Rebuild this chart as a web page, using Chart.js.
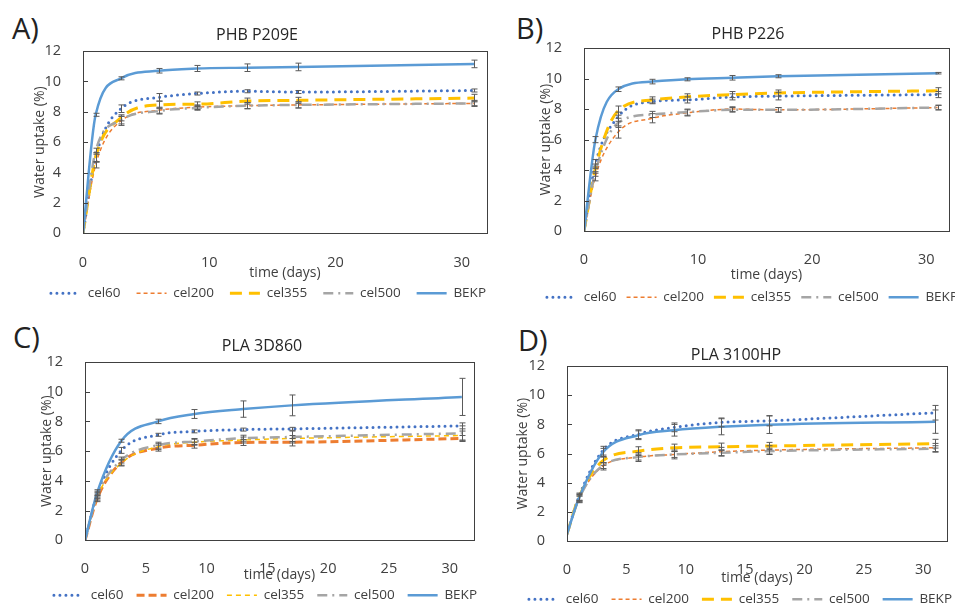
<!DOCTYPE html>
<html><head><meta charset="utf-8">
<script src="https://cdn.jsdelivr.net/npm/chart.js@4.4.1/dist/chart.umd.min.js"></script>
<style>
html,body{margin:0;padding:0;background:#fff;}
body{width:955px;height:605px;overflow:hidden;position:relative;font-family:"Open Sans",sans-serif;}
canvas{position:absolute;}
.lbl{position:absolute;font-size:29px;line-height:1;color:#222;font-family:"Open Sans",sans-serif;}
</style></head>
<body>
<div class="lbl" style="left:12px;top:13px">A)</div>
<div class="lbl" style="left:516px;top:13px">B)</div>
<div class="lbl" style="left:13px;top:322px">C)</div>
<div class="lbl" style="left:518px;top:325px">D)</div>
<canvas id="cA" width="492" height="285" style="left:0px;top:20px"></canvas>
<canvas id="cB" width="465" height="285" style="left:490px;top:20px"></canvas>
<canvas id="cC" width="480" height="285" style="left:0px;top:320px"></canvas>
<canvas id="cD" width="465" height="285" style="left:490px;top:320px"></canvas>
<script>
// ---------- DATA ----------
const days = [0, 1, 3, 6, 9, 13, 17, 31];
const seriesNames = ['cel60', 'cel200', 'cel355', 'cel500', 'BEKP'];
const panelTitles = ['PHB P209E', 'PHB P226', 'PLA 3D860', 'PLA 3100HP'];
const xTickSteps = [10, 10, 5, 5];
const yAxisTitle = 'Water uptake (%)';
const xAxisTitle = 'time (days)';

// Panel A - PHB P209E
const A_cel60  = [0, 5.0, 8.2, 8.95, 9.2, 9.35, 9.3, 9.4];
const A_cel200 = [0, 4.5, 7.4, 8.1, 8.3, 8.4, 8.45, 8.55];
const A_cel355 = [0, 5.0, 7.6, 8.45, 8.5, 8.7, 8.75, 8.9];
const A_cel500 = [0, 5.4, 7.45, 8.05, 8.25, 8.4, 8.45, 8.55];
const A_BEKP   = [0, 7.8, 10.2, 10.7, 10.85, 10.9, 10.95, 11.15];
const A_cel60_err  = [0, 0.3, 0.25, 0.25, 0.1, 0.1, 0.1, 0.1];
const A_cel200_err = [0, 0.2, 0.3, 0.2, 0.15, 0.2, 0.2, 0.15];
const A_cel355_err = [0, 0.3, 0.2, 0.25, 0.15, 0.2, 0.2, 0.25];
const A_cel500_err = [0, 0.2, 0.25, 0.2, 0.15, 0.2, 0.2, 0.2];
const A_BEKP_err   = [0, 0.1, 0.1, 0.15, 0.2, 0.25, 0.25, 0.25];

// Panel B - PHB P226
const B_cel60  = [0, 4.4, 7.5, 8.5, 8.6, 8.8, 8.85, 8.95];
const B_cel200 = [0, 3.6, 6.5, 7.4, 7.75, 8.0, 7.95, 8.1];
const B_cel355 = [0, 4.1, 7.9, 8.6, 8.8, 8.95, 9.05, 9.2];
const B_cel500 = [0, 3.9, 7.1, 7.65, 7.8, 7.95, 7.95, 8.1];
const B_BEKP   = [0, 6.0, 9.3, 9.8, 9.95, 10.05, 10.15, 10.35];
const B_cel60_err  = [0, 0.3, 0.3, 0.15, 0.2, 0.2, 0.25, 0.2];
const B_cel200_err = [0, 0.3, 0.4, 0.3, 0.2, 0.15, 0.15, 0.15];
const B_cel355_err = [0, 0.3, 0.3, 0.2, 0.2, 0.2, 0.2, 0.2];
const B_cel500_err = [0, 0.3, 0.3, 0.2, 0.2, 0.15, 0.15, 0.15];
const B_BEKP_err   = [0, 0.2, 0.15, 0.15, 0.1, 0.15, 0.1, 0.05];

// Panel C - PLA 3D860
const C_cel60  = [0, 3.1, 6.05, 7.1, 7.33, 7.45, 7.5, 7.7];
const C_cel200 = [0, 2.8, 5.25, 6.2, 6.4, 6.58, 6.6, 6.85];
const C_cel355 = [0, 2.9, 5.2, 6.3, 6.6, 6.75, 6.85, 7.05];
const C_cel500 = [0, 3.0, 5.4, 6.4, 6.65, 6.87, 6.95, 7.2];
const C_BEKP   = [0, 3.2, 6.7, 8.0, 8.5, 8.83, 9.08, 9.65];
const C_cel60_err  = [0, 0.2, 0.2, 0.1, 0.1, 0.1, 0.1, 0.2];
const C_cel200_err = [0, 0.2, 0.2, 0.2, 0.2, 0.2, 0.25, 0.2];
const C_cel355_err = [0, 0.2, 0.2, 0.2, 0.2, 0.2, 0.2, 0.3];
const C_cel500_err = [0, 0.2, 0.2, 0.2, 0.2, 0.2, 0.4, 0.5];
const C_BEKP_err   = [0, 0.2, 0.1, 0.15, 0.3, 0.55, 0.7, 1.25];

// Panel D - PLA 3100HP
const D_cel60  = [0.5, 3.05, 6.2, 7.33, 7.8, 8.14, 8.25, 8.8];
const D_cel200 = [0.5, 2.9, 5.13, 5.76, 5.94, 6.13, 6.24, 6.4];
const D_cel355 = [0.5, 3.0, 5.5, 6.17, 6.4, 6.47, 6.52, 6.68];
const D_cel500 = [0.5, 2.9, 5.18, 5.76, 5.94, 6.06, 6.17, 6.34];
const D_BEKP   = [0.5, 2.94, 6.06, 7.26, 7.6, 7.84, 7.98, 8.19];
const D_cel60_err  = [0, 0.25, 0.3, 0.3, 0.3, 0.3, 0.35, 0.5];
const D_cel200_err = [0, 0.2, 0.25, 0.3, 0.3, 0.3, 0.3, 0.3];
const D_cel355_err = [0, 0.2, 0.3, 0.3, 0.25, 0.25, 0.25, 0.3];
const D_cel500_err = [0, 0.2, 0.2, 0.2, 0.2, 0.2, 0.2, 0.2];
const D_BEKP_err   = [0, 0.3, 0.3, 0.3, 0.4, 0.55, 0.6, 0.8];

const panelValues = [
  [A_cel60, A_cel200, A_cel355, A_cel500, A_BEKP],
  [B_cel60, B_cel200, B_cel355, B_cel500, B_BEKP],
  [C_cel60, C_cel200, C_cel355, C_cel500, C_BEKP],
  [D_cel60, D_cel200, D_cel355, D_cel500, D_BEKP]
];
const panelErrors = [
  [A_cel60_err, A_cel200_err, A_cel355_err, A_cel500_err, A_BEKP_err],
  [B_cel60_err, B_cel200_err, B_cel355_err, B_cel500_err, B_BEKP_err],
  [C_cel60_err, C_cel200_err, C_cel355_err, C_cel500_err, C_BEKP_err],
  [D_cel60_err, D_cel200_err, D_cel355_err, D_cel500_err, D_BEKP_err]
];

// ---------- STYLES / LAYOUT ----------
const baseStyles = {
  cel60:  {color: '#4472C4', width: 3,   dash: [0, 6],        cap: 'round'},
  cel200: {color: '#ED7D31', width: 1.5, dash: [4, 3],        cap: 'butt'},
  cel355: {color: '#FFC000', width: 3,   dash: [12, 7],       cap: 'butt'},
  cel500: {color: '#A5A5A5', width: 2.5, dash: [10, 5, 2, 5], cap: 'butt'},
  BEKP:   {color: '#5B9BD5', width: 2.5, dash: [],            cap: 'butt'}
};
const panelCOverrides = {
  cel200: {color: '#ED7D31', width: 3,   dash: [8, 4], cap: 'butt'},
  cel355: {color: '#FFC000', width: 1.5, dash: [5, 4], cap: 'butt'}
};
const layouts = [
  {id: 'cA', cx: 0,   cy: 20,  cw: 492, pl: 83,  pr: 487, pt: 51,  pb: 231, titleX: 257, titleY: 35,  yTitleX: 40,  xTickY: 253, xTitleY: 271, legendY: 291, legendEnd: 486, legPad: 16},
  {id: 'cB', cx: 490, cy: 20,  cw: 465, pl: 584, pr: 949, pt: 48,  pb: 229, titleX: 748, titleY: 34,  yTitleX: 546, xTickY: 250, xTitleY: 273, legendY: 295, legendEnd: 958, legPad: 10},
  {id: 'cC', cx: 0,   cy: 320, cw: 480, pl: 85,  pr: 474, pt: 362, pb: 538, titleX: 262, titleY: 346, yTitleX: 47,  xTickY: 559, xTitleY: 573, legendY: 593, legendEnd: 477, legPad: 13},
  {id: 'cD', cx: 490, cy: 320, cw: 465, pl: 567, pr: 947, pt: 366, pb: 539, titleX: 736, titleY: 355, yTitleX: 523, xTickY: 560, xTitleY: 576, legendY: 597, legendEnd: 952, legPad: 13}
];

const FONT = '"Open Sans", sans-serif';
const TEXT = '#404040';

const frameAndErrors = {
  id: 'frameAndErrors',
  afterLayout(chart, args, opts) {
    const L = opts.L;
    if (chart.titleBlock) {
      const tw = chart.titleBlock.right - chart.titleBlock.left;
      const c = L.titleX - L.cx;
      chart.titleBlock.left = c - tw / 2;
      chart.titleBlock.right = c + tw / 2;
    }
    if (chart.legend) {
      chart.legend.right = L.legendEnd - L.cx + L.legPad;
    }
  },
  afterDatasetsDraw(chart) {
    const {ctx, chartArea: a, scales: {x, y}} = chart;
    ctx.save();
    ctx.strokeStyle = '#5a5a5a';
    ctx.lineWidth = 1;
    ctx.setLineDash([]);
    chart.data.datasets.forEach(ds => {
      const errs = ds.errors || [];
      ds.data.forEach((p, i) => {
        const e = errs[i];
        if (!e) return;
        const px = Math.round(x.getPixelForValue(p.x)) + 0.5;
        const y1 = y.getPixelForValue(p.y + e), y2 = y.getPixelForValue(p.y - e);
        ctx.beginPath();
        ctx.moveTo(px, y1); ctx.lineTo(px, y2);
        ctx.moveTo(px - 3, y1); ctx.lineTo(px + 3, y1);
        ctx.moveTo(px - 3, y2); ctx.lineTo(px + 3, y2);
        ctx.stroke();
      });
    });
    ctx.strokeStyle = '#404040';
    ctx.strokeRect(Math.round(a.left) + 0.5, Math.round(a.top) + 0.5, Math.round(a.right - a.left), Math.round(a.bottom - a.top));
    // inward major tick marks on the value axis
    ctx.beginPath();
    y.ticks.forEach(t => {
      const py = Math.round(y.getPixelForValue(t.value)) + 0.5;
      ctx.moveTo(Math.round(a.left), py);
      ctx.lineTo(Math.round(a.left) + 5, py);
    });
    ctx.stroke();
    ctx.restore();
  }
};

const LEG_FONT = 13.5, TITLE_FONT = 16, AXT_FONT = 14, TICK_FONT = 14.5;

layouts.forEach((L, p) => {
  const LEG_P = L.legPad;
  const titleLH = TITLE_FONT * 1.2;
  const padTop = L.titleY - titleLH / 2 - L.cy;
  const titlePadBottom = L.pt - (L.titleY + titleLH / 2);
  const axLH = AXT_FONT * 1.2;
  const padLeft = 0;
  const yTitlePadTop = L.yTitleX - axLH / 2 - L.cx - padLeft;
  const yWidth = L.pl - L.cx - padLeft;
  const padRight = L.cx + L.cw - L.pr;
  const xH = L.legendY - (LEG_P + LEG_FONT / 2) - L.pb;
  const xTitlePadBottom = L.pb + xH - axLH / 2 - L.xTitleY;
  const xTickPad = L.xTickY - L.pb - TICK_FONT * 1.2 / 2;
  const legH = LEG_P + LEG_FONT + 10;
  const canvas = document.getElementById(L.id);
  canvas.height = Math.ceil(L.pb + xH + legH - L.cy) + 2;

  const datasets = seriesNames.map((name, i) => {
    const st = (p === 2 && panelCOverrides[name]) ? panelCOverrides[name] : baseStyles[name];
    return {
      label: name,
      data: days.map((d, k) => ({x: d, y: panelValues[p][i][k]})),
      errors: panelErrors[p][i],
      borderColor: st.color,
      backgroundColor: st.color,
      borderWidth: st.width,
      borderDash: st.dash,
      borderCapStyle: st.cap,
      pointRadius: 0,
      pointHoverRadius: 0,
      cubicInterpolationMode: 'monotone',
      fill: false,
      order: seriesNames.length - 1 - i
    };
  });

  new Chart(canvas, {
    type: 'line',
    data: {datasets},
    options: {
      responsive: false,
      animation: false,
      devicePixelRatio: 1,
      layout: {padding: {top: padTop, left: padLeft, right: padRight, bottom: 0}},
      plugins: {
        tooltip: {enabled: false},
        frameAndErrors: {L},
        title: {
          display: true, text: panelTitles[p], color: '#262626',
          font: {family: FONT, size: TITLE_FONT, weight: 'normal'},
          padding: {top: 0, bottom: titlePadBottom}
        },
        legend: {
          position: 'bottom',
          align: 'end',
          labels: {
            usePointStyle: true, pointStyle: 'line', pointStyleWidth: 30,
            padding: LEG_P, color: TEXT,
            font: {family: FONT, size: LEG_FONT},
            generateLabels: chart => chart.data.datasets.map((ds, i) => ({
              text: ds.label,
              fillStyle: ds.borderColor,
              strokeStyle: ds.borderColor,
              lineWidth: ds.borderWidth,
              lineDash: ds.borderDash,
              lineCap: ds.borderCapStyle,
              pointStyle: 'line',
              hidden: false,
              datasetIndex: i,
              fontColor: TEXT
            }))
          }
        }
      },
      scales: {
        x: {
          type: 'linear', min: 0, max: 32,
          grid: {display: false}, border: {display: false},
          ticks: {stepSize: xTickSteps[p], includeBounds: false, color: TEXT, padding: xTickPad,
                  font: {family: FONT, size: TICK_FONT}, maxRotation: 0},
          title: {display: true, text: xAxisTitle, color: TEXT,
                  font: {family: FONT, size: AXT_FONT}, padding: {top: 0, bottom: xTitlePadBottom}},
          afterFit: s => { s.height = xH; }
        },
        y: {
          type: 'linear', min: 0, max: 12,
          grid: {display: false}, border: {display: false},
          ticks: {stepSize: 2, color: TEXT, padding: 14, font: {family: FONT, size: TICK_FONT}},
          title: {display: true, text: yAxisTitle, color: TEXT,
                  font: {family: FONT, size: AXT_FONT}, padding: {top: yTitlePadTop, bottom: 0}},
          afterFit: s => { s.width = yWidth; }
        }
      }
    },
    plugins: [frameAndErrors]
  });
});
</script>
</body></html>
